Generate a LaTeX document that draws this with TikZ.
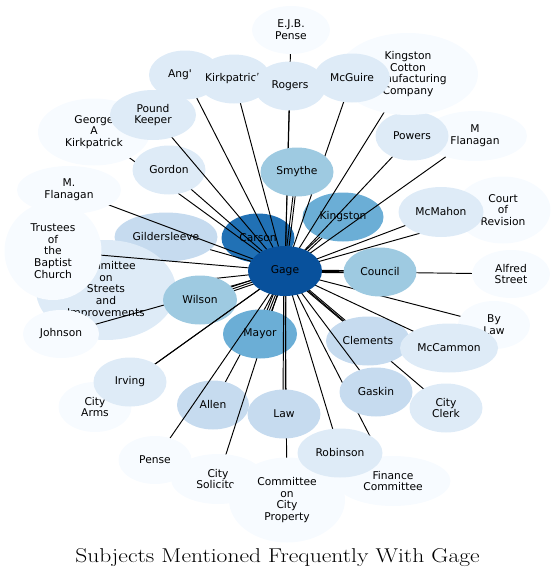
\documentclass[tikz,border=0pt]{standalone}
\usepackage{fontspec}
\usepackage{graphicx}
\usepackage{xcolor}
\usepackage{tikz}
\usetikzlibrary{shapes.geometric,calc}
\newfontfamily\labelfont{DejaVu Sans}
\definecolor{blues0}{RGB}{247, 251, 255}
\definecolor{blues1}{RGB}{222, 235, 247}
\definecolor{blues2}{RGB}{198, 219, 239}
\definecolor{blues3}{RGB}{158, 202, 225}
\definecolor{blues4}{RGB}{107, 174, 214}
\definecolor{blues5}{RGB}{33, 113, 181}
\definecolor{blues6}{RGB}{8, 81, 156}
\tikzset{
    ent/.style={ellipse, draw=none, inner sep=0pt, outer sep=0pt},
    lbl/.style={align=center, inner sep=0pt, font={\labelfont\fontsize{10.7}{11.8}\selectfont}},
    link/.style={black, line width=0.95pt}
}

\begin{document}
\begin{tikzpicture}[x=1pt, y=-1pt]
\useasboundingbox (0,0) rectangle (555,579);
\coordinate (p-gage) at (285,271);
% Draw every subject and its links to Gage, back to front
\foreach \nm/\px/\py/\w/\h/\col/\m/\txt in {
    carson/258/238/73/49/blues5/3/Carson,
    kingston/343/217/81/49/blues4/2/Kingston,
    mflanr/475/136/104/50/blues0/1/{M\\Flanagan},
    powers/412/136/73/49/blues1/1/Powers,
    kcmc/408/74/140/82/blues0/1/{Kingston\\Cotton\\Manufacturing\\Company},
    mcguire/352/78/76/49/blues1/1/McGuire,
    ejbpense/291/30/78/48/blues0/1/{E.J.B.\\Pense},
    ang/185/75/72/49/blues1/1/{\makebox[34pt][l]{Ang'}},
    kirkpatrick/234/79/74/49/blues1/1/Kirkpatrick,
    rogers/290/86/72/49/blues1/1/Rogers,
    smythe/297/172/73/49/blues3/2/Smythe,
    gildersleeve/166/237/103/49/blues2/1/Gildersleeve,
    george/94/132/112/67/blues0/1/{George\\A\\Kirkpatrick},
    gordon/169/170/73/49/blues1/1/Gordon,
    poundkeeper/153/115/86/50/blues1/1/{Pound\\Keeper},
    mflanl/69/190/104/48/blues0/1/{M.\\Flanagan},
    streets/106/290/140/100/blues1/1/{Committee\\on\\Streets\\and\\Improvements},
    trustees/53/251/97/98/blues0/1/{Trustees\\of\\the\\Baptist\\Church},
    johnson/61/334/76/48/blues0/1/Johnson,
    wilson/200/300/74/49/blues3/3/Wilson,
    cityarms/95/407/73/50/blues0/1/{City\\Arms},
    irving/130/382/73/49/blues1/1/Irving,
    allen/213/405/72/49/blues2/1/Allen,
    solicitor/218/479/94/50/blues0/1/{City\\Solicitor},
    mayor/260/334/74/49/blues4/3/Mayor,
    property/287/500/116/85/blues0/1/{Committee\\on\\City\\Property},
    law/284/414/73/49/blues2/2/Law,
    pense/155/460/73/48/blues0/1/Pense,
    finance/393/481/115/50/blues0/1/{Finance\\Committee},
    robinson/340/453/85/49/blues1/1/Robinson,
    cityclerk/446/408/73/49/blues1/1/{City\\Clerk},
    clements/368/341/84/49/blues2/2/Clements,
    gaskin/376/392/73/49/blues2/1/Gaskin,
    bylaw/494/325/72/48/blues0/1/{By\\Law},
    mccammon/449/348/98/49/blues1/1/McCammon,
    alfred/511/274/78/48/blues0/1/{Alfred\\Street},
    council/380/272/73/49/blues3/2/Council,
    court/503/210/95/67/blues0/1/{Court\\of\\Revision},
    mcmahon/441/212/85/50/blues1/1/McMahon} {
    \coordinate (p-\nm) at (\px,\py);
    \foreach \k in {1,...,\m} {
        \pgfmathsetmacro{\off}{(\k-(\m+1)/2)*2.2}
        \draw[link] ($(p-gage)!\off pt!90:(p-\nm)$) -- ($(p-\nm)!\off pt!-90:(p-gage)$);
    }
    \node[ent, fill=\col, minimum width=\w pt, minimum height=\h pt] (\nm) at (p-\nm) {};
    \node[lbl] (\nm-txt) at (\nm) {\txt};
}
% Gage sits on top of all
\node[ent, fill=blues6, minimum width=74pt, minimum height=50pt] (gage) at (p-gage) {};
\node[lbl] (gage-txt) at (gage) {Gage};
\node[anchor=base, font=\fontsize{20}{22}\selectfont] (title) at (277.5,562) {\scalebox{1.177}[1]{Subjects Mentioned Frequently With Gage}};
\end{tikzpicture}
\end{document}
